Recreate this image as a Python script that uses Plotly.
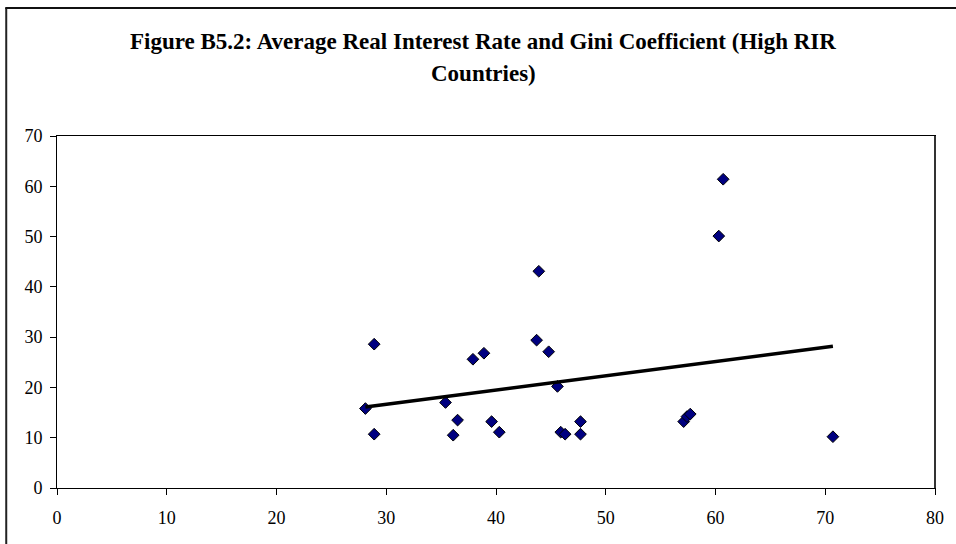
import plotly.graph_objects as go

# Average real interest rate (x) vs Gini coefficient (y)
rir = [28.1, 28.9, 28.9, 35.4, 36.5, 36.1, 37.9, 38.9, 39.6, 40.3, 43.9, 43.7,
       44.8, 45.6, 45.9, 46.3, 47.7, 47.7, 60.7, 60.3, 57.1, 57.4, 57.7, 70.7]
gini = [15.8, 28.6, 10.7, 17.0, 13.5, 10.5, 25.6, 26.8, 13.2, 11.1, 43.1, 29.4,
        27.1, 20.2, 11.1, 10.7, 13.2, 10.7, 61.4, 50.1, 13.2, 14.2, 14.7, 10.2]

# Linear trend line endpoints
trend_x = [28.1, 70.7]
trend_y = [16.1, 28.2]

title_lines = ["Figure B5.2: Average Real Interest Rate and Gini Coefficient (High RIR",
               "Countries)"]

x_ticks = list(range(0, 81, 10))
y_ticks = list(range(0, 71, 10))

W, H = 956, 544
L, R, T, B = 57, 17, 136, 56
pw, ph = W - L - R, H - T - B

fig = go.Figure()
fig.add_trace(go.Scatter(
    x=rir, y=gini, mode="markers",
    marker=dict(symbol="diamond", size=9, color="#000080",
                line=dict(color="black", width=1)),
    showlegend=False, cliponaxis=False))
fig.add_trace(go.Scatter(
    x=trend_x, y=trend_y, mode="lines",
    line=dict(color="black", width=3.5), showlegend=False))

font = dict(family="Liberation Serif, Times New Roman, serif", color="black")

axis_common = dict(showgrid=False, zeroline=False, showline=True,
                   linecolor="black", linewidth=1, mirror=True,
                   ticks="outside", ticklen=6, tickcolor="black", tickwidth=1,
                   tickfont=dict(size=18, **font))

fig.update_layout(
    width=W, height=H,
    margin=dict(l=L, r=R, t=T, b=B),
    paper_bgcolor="white", plot_bgcolor="white",
    xaxis=dict(range=[0, 80], tickvals=x_ticks, ticklabelstandoff=7, **axis_common),
    yaxis=dict(range=[0, 70], tickvals=y_ticks, ticklabelstandoff=4, **axis_common),
)

def px_to_paper_x(px):
    return (px - L) / pw

def px_to_paper_y(py):
    return (H - B - py) / ph

for txt, cy in zip(title_lines, [41, 73]):
    fig.add_annotation(text="<b>" + txt + "</b>", xref="paper", yref="paper",
                       x=px_to_paper_x(485), y=px_to_paper_y(cy),
                       xanchor="center", yanchor="middle", showarrow=False,
                       font=dict(size=23, **font))

# outer chart border (left and top edges visible)
fig.add_shape(type="line", xref="paper", yref="paper",
              x0=px_to_paper_x(6), x1=px_to_paper_x(6),
              y0=px_to_paper_y(8), y1=px_to_paper_y(560),
              line=dict(color="#222222", width=2))
fig.add_shape(type="line", xref="paper", yref="paper",
              x0=px_to_paper_x(5), x1=px_to_paper_x(970),
              y0=px_to_paper_y(8), y1=px_to_paper_y(8),
              line=dict(color="#111111", width=2))
# heavier right edge of plot area
fig.add_shape(type="line", xref="paper", yref="paper",
              x0=1, x1=1, y0=0, y1=1,
              line=dict(color="#333333", width=2))

fig.write_html("out.html", config={"displayModeBar": False},
               post_script="document.body.style.margin='0';")
